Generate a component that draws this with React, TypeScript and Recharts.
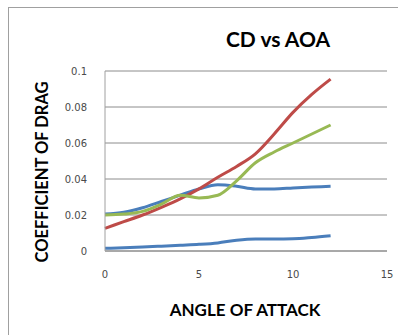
import { LineChart, Line, XAxis, YAxis, CartesianGrid } from 'recharts';

// angle of attack (deg)
const angles = [0, 1, 2, 3, 4, 5, 6, 7, 8, 9, 10, 11, 12];

// drag coefficient per configuration
const cdBlueUpper = [0.0205, 0.0215, 0.024, 0.0275, 0.031, 0.0345, 0.0368, 0.036, 0.0345, 0.0345, 0.035, 0.0355, 0.036];
const cdBlueLower = [0.0015, 0.0018, 0.0022, 0.0027, 0.0032, 0.0037, 0.0045, 0.006, 0.0067, 0.0067, 0.0068, 0.0075, 0.0085];
const cdRed = [0.0126, 0.0163, 0.02, 0.0243, 0.029, 0.0345, 0.041, 0.047, 0.054, 0.065, 0.077, 0.087, 0.0955];
const cdGreen = [0.02, 0.0205, 0.022, 0.026, 0.031, 0.0295, 0.031, 0.039, 0.049, 0.055, 0.06, 0.065, 0.07];

const xTicks = [0, 5, 10, 15];
const yTicks = [0, 0.02, 0.04, 0.06, 0.08, 0.1];

const data = angles.map((a, i) => ({
  aoa: a,
  blueUpper: cdBlueUpper[i],
  blueLower: cdBlueLower[i],
  red: cdRed[i],
  green: cdGreen[i],
}));

const font = 'Lato, "Open Sans", sans-serif';
const tickStyle = { fontSize: 10, fill: '#4a4a4a', fontFamily: '"DejaVu Sans", sans-serif' };

export default function App() {
  return (
    <div style={{ position: 'absolute', left: 0, top: 0, width: 398, height: 335, overflow: 'hidden', background: '#fff' }}>
      <div style={{ position: 'absolute', left: 8, top: 7, width: 420, height: 360, border: '1px solid #a0a0a0' }} />
      <LineChart width={398} height={335} data={data} margin={{ top: 71, right: 11, bottom: 54, left: 0 }}>
        <CartesianGrid vertical={false} stroke="#8c8c8c" />
        <XAxis
          dataKey="aoa"
          type="number"
          domain={[0, 15]}
          ticks={xTicks}
          tickLine={false}
          tickSize={0}
          tickMargin={20}
          axisLine={{ stroke: '#8c8c8c' }}
          tick={tickStyle}
        />
        <YAxis
          width={105}
          domain={[0, 0.1]}
          ticks={yTicks}
          tickLine={false}
          tickSize={0}
          tickMargin={18}
          axisLine={{ stroke: '#a0a0a0' }}
          tick={tickStyle}
        />
        <Line type="monotone" dataKey="blueLower" stroke="#4a7ebb" strokeWidth={3} dot={false} isAnimationActive={false} />
        <Line type="monotone" dataKey="blueUpper" stroke="#4a7ebb" strokeWidth={3} dot={false} isAnimationActive={false} />
        <Line type="monotone" dataKey="red" stroke="#be4b48" strokeWidth={3} dot={false} isAnimationActive={false} />
        <Line type="monotone" dataKey="green" stroke="#98b954" strokeWidth={3} dot={false} isAnimationActive={false} />
      </LineChart>
      <div style={{ position: 'absolute', left: 178, top: 27, width: 200, textAlign: 'center', fontFamily: font, fontWeight: 700, fontSize: 21, color: '#000', lineHeight: '24px' }}>
        CD vs AOA
      </div>
      <div style={{ position: 'absolute', left: 145, top: 300, width: 200, textAlign: 'center', fontFamily: font, fontWeight: 700, fontSize: 17, color: '#000', lineHeight: '20px' }}>
        ANGLE OF ATTACK
      </div>
      <div style={{ position: 'absolute', left: 42 - 110, top: 172 - 10, width: 220, textAlign: 'center', fontFamily: font, fontWeight: 700, fontSize: 16.5, color: '#000', lineHeight: '20px', transform: 'rotate(-90deg)' }}>
        COEFFICIENT OF DRAG
      </div>
    </div>
  );
}
